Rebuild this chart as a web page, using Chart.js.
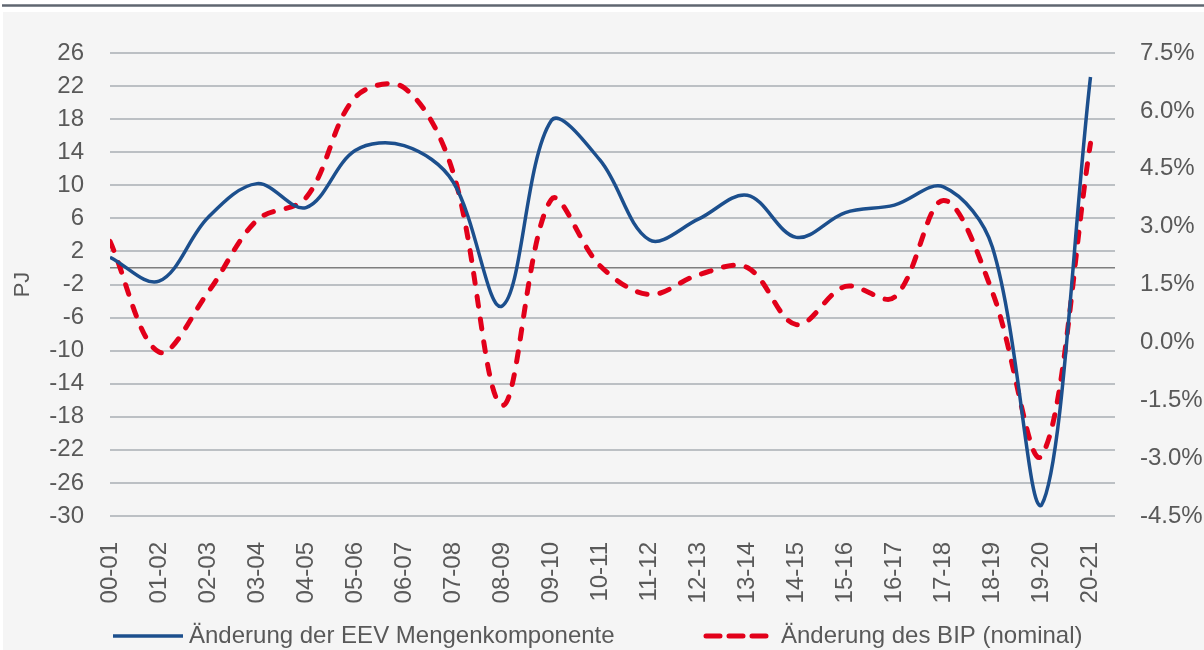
<!DOCTYPE html>
<html>
<head>
<meta charset="utf-8">
<script src="https://cdn.jsdelivr.net/npm/chart.js@4/dist/chart.umd.min.js"></script>
<style>
  html, body { margin: 0; padding: 0; background: #fff; }
</style>
</head>
<body>
<canvas id="myLineChart" width="1204" height="650"></canvas>
<script>
// Data
const labels = [
  "00-01", "01-02", "02-03", "03-04", "04-05", "05-06", "06-07",
  "07-08", "08-09", "09-10", "10-11", "11-12", "12-13", "13-14",
  "14-15", "15-16", "16-17", "17-18", "18-19", "19-20", "20-21",
];
// PJ, left axis
const eevValues = [
  1.3, -1.6, 6.1, 10.2, 7.3, 14.2, 14.8, 10.4, -4.6, 17.8, 13.0,
  3.4, 5.9, 8.8, 3.7, 6.7, 7.6, 9.8, 2.5, -28.7, 23.1,
];
// %, right axis
const bipValues = [
  2.62, -0.25, 1.3, 3.17, 3.75, 6.35, 6.6, 4.4, -1.63, 3.7, 1.98,
  1.24, 1.75, 1.94, 0.46, 1.45, 1.17, 3.68, 1.3, -2.94, 5.16,
];
const leftAxis = { min: -30, max: 26, step: 4 };
const rightAxis = { min: -4.5, max: 7.5, step: 1.5 };
const seriesNames = [
  "Änderung der EEV Mengenkomponente",
  "Änderung des BIP (nominal)",
];

const textColor = "#595959";
const fontFamily = "'Liberation Sans', Arial, sans-serif";

// background + top rule
const bgPlugin = {
  id: "bg",
  beforeDraw(chart) {
    const c = chart.ctx;
    c.save();
    c.fillStyle = "#ffffff";
    c.fillRect(0, 0, chart.width, chart.height);
    c.fillStyle = "#f5f5f5";
    c.fillRect(3, 12, chart.width - 3, chart.height - 12);
    c.strokeStyle = "#5f6670";
    c.lineWidth = 2.5;
    c.beginPath();
    c.moveTo(2, 5.5);
    c.lineTo(chart.width, 5.5);
    c.stroke();
    c.restore();
  },
};

// legend drawn at the bottom like the original
const legendX = [113, 703];
const legendPlugin = {
  id: "bottomLegend",
  afterDraw(chart) {
    const c = chart.ctx;
    const y = 636;
    chart.data.datasets.forEach((ds, i) => {
      const x = legendX[i];
      c.save();
      c.strokeStyle = ds.borderColor;
      c.lineWidth = ds.borderWidth;
      c.lineCap = ds.borderCapStyle || "butt";
      c.setLineDash(i ? [14, 9] : []);
      c.beginPath();
      c.moveTo(x + (i ? 3 : 0), y);
      c.lineTo(x + (i ? 64 : 70), y);
      c.stroke();
      c.setLineDash([]);
      c.fillStyle = textColor;
      c.font = "24px " + fontFamily;
      c.textBaseline = "middle";
      c.fillText(ds.label, x + (i ? 78 : 76), y);
      c.restore();
    });
  },
};

const ctxLine = document.getElementById("myLineChart");
const myLineChart = new Chart(ctxLine, {
  type: "line",
  data: {
    datasets: [
      {
        label: seriesNames[0],
        data: eevValues.map((v, i) => ({ x: i, y: v })),
        yAxisID: "y",
        borderColor: "#1c4f8d",
        backgroundColor: "#1c4f8d",
        borderWidth: 3.5,
        pointRadius: 0,
        tension: 0.35,
        fill: false,
      },
      {
        label: seriesNames[1],
        data: bipValues.map((v, i) => ({ x: i, y: v })),
        yAxisID: "y1",
        borderColor: "#e2001a",
        backgroundColor: "#e2001a",
        borderWidth: 5,
        borderDash: [10, 13],
        borderCapStyle: "round",
        pointRadius: 0,
        tension: 0.35,
        fill: false,
      },
    ],
  },
  options: {
    responsive: false,
    animation: false,
    layout: { padding: { top: 53, left: 10, right: 0, bottom: 0 } },
    plugins: {
      legend: { display: false },
      tooltip: { enabled: false },
    },
    scales: {
      x: {
        type: "linear",
        min: 0,
        max: labels.length - 0.5,
        afterBuildTicks: (axis) => {
          axis.ticks = labels.map((_, i) => ({ value: i }));
        },
        afterFit: (axis) => { axis.height = 134; },
        grid: { display: false },
        border: { display: false },
        ticks: {
          autoSkip: false,
          minRotation: 90,
          maxRotation: 90,
          padding: 18,
          color: textColor,
          font: { family: fontFamily, size: 24 },
          callback: (v) => labels[v],
        },
      },
      y: {
        position: "left",
        min: leftAxis.min,
        max: leftAxis.max,
        afterBuildTicks: (axis) => {
          const t = [];
          for (let v = leftAxis.min; v <= leftAxis.max; v += leftAxis.step) t.push({ value: v });
          t.push({ value: 0 });
          t.sort((a, b) => a.value - b.value);
          axis.ticks = t;
        },
        afterFit: (axis) => { axis.width = 100; },
        border: { display: false },
        grid: {
          drawTicks: false,
          lineWidth: (c) => (c.tick && c.tick.value === 0 ? 1.5 : 2),
          color: (c) => (c.tick && c.tick.value === 0 ? "#7f7f7f" : "#bcc0c4"),
        },
        ticks: {
          autoSkip: false,
          padding: 26,
          color: textColor,
          font: { family: fontFamily, size: 24 },
          callback: (v) => (v === 0 ? "" : v),
        },
        title: {
          display: true,
          text: "PJ",
          color: textColor,
          font: { family: fontFamily, size: 22 },
          padding: 0,
        },
      },
      y1: {
        position: "right",
        min: rightAxis.min,
        max: rightAxis.max,
        afterFit: (axis) => { axis.width = 89; },
        border: { display: false },
        grid: { display: false, drawTicks: false },
        ticks: {
          autoSkip: false,
          stepSize: rightAxis.step,
          padding: 25,
          color: textColor,
          font: { family: fontFamily, size: 24 },
          callback: (v) => v.toFixed(1) + "%",
        },
      },
    },
  },
  plugins: [bgPlugin, legendPlugin],
});
</script>
</body>
</html>
